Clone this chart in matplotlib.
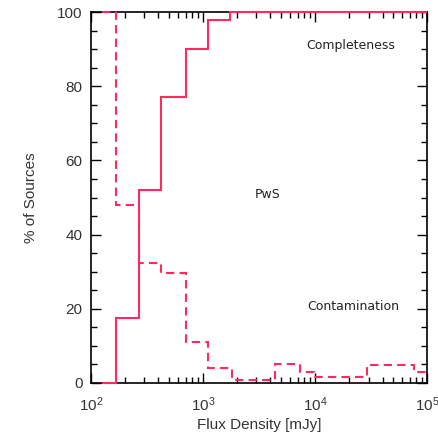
import matplotlib
matplotlib.use("Agg")
import matplotlib.pyplot as plt
import numpy as np
from matplotlib.ticker import MultipleLocator, LogLocator, NullFormatter

plt.rcParams['font.family'] = ['Liberation Sans', 'DejaVu Sans']

# bin edges in flux density (mJy)
comp_edges = [125, 167, 269, 418, 700, 1100, 1740, 100000]
comp_vals = [0, 17.5, 52, 77, 90, 98, 100]

cont_edges = [125, 167, 269, 418, 700, 1100, 1800, 4400, 7350, 9800, 29100, 76500, 100000]
cont_vals = [100, 48, 32.4, 29.5, 11, 4.1, 0.8, 5.1, 2.8, 1.7, 4.8, 2.8]

col = '#ff2a5f'

fig = plt.figure(figsize=(4.39, 4.36), dpi=100)
ax = fig.add_axes([0.207, 0.122, 0.766, 0.85])

ax.stairs(comp_vals, comp_edges, color=col, lw=1.5, baseline=None, clip_on=False, zorder=3)
ax.stairs(cont_vals, cont_edges, color=col, lw=1.5, baseline=None, linestyle=(0, (4, 2.5)),
          clip_on=False, zorder=3)

ax.set_xscale('log')
ax.set_xlim(100, 100000)
ax.set_ylim(0, 100)

ax.yaxis.set_major_locator(MultipleLocator(20))
ax.yaxis.set_minor_locator(MultipleLocator(5))
ax.xaxis.set_major_locator(LogLocator(base=10))
ax.xaxis.set_minor_locator(LogLocator(base=10, subs=np.arange(2, 10)))
ax.xaxis.set_minor_formatter(NullFormatter())

ax.tick_params(which='both', direction='in', top=True, right=True, colors='black',
               labelcolor='#333333', labelsize=11, width=1)
ax.tick_params(which='major', length=7, pad=6)
ax.tick_params(axis='x', which='major', pad=9)
ax.tick_params(which='minor', length=4)
for s in ax.spines.values():
    s.set_linewidth(1.2)

ax.set_xlabel('Flux Density [mJy]', fontsize=11, color='#333333', labelpad=3)
ax.set_ylabel('% of Sources', fontsize=11, color='#333333', labelpad=14)

lbl = dict(fontsize=9, ha='center', va='center', family='DejaVu Sans', color='#222222')
ax.text(2.1e4, 91, 'Completeness', **lbl)
ax.text(3.8e3, 50.7, 'PwS', **lbl)
ax.text(2.2e4, 20.7, 'Contamination', **lbl)

fig.savefig('out.png', dpi=100)
